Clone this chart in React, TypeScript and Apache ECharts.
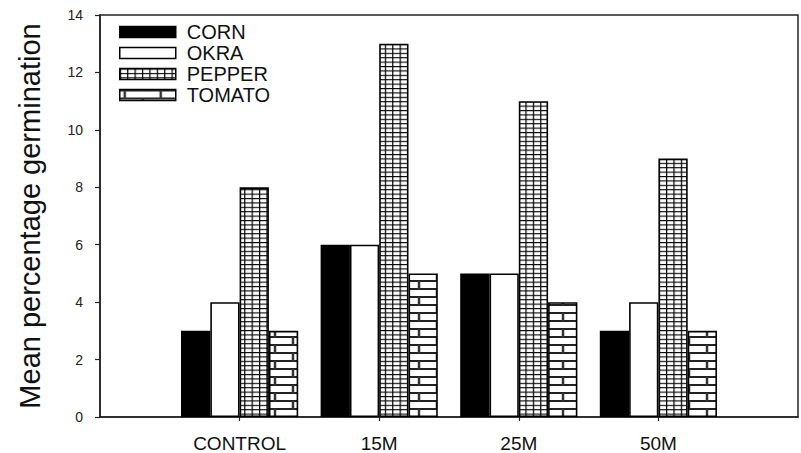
import { useEffect, useRef } from 'react';
import * as echarts from 'echarts';

// Treatments and mean germination per crop
const categories = ['CONTROL', '15M', '25M', '50M'];
const corn = [3, 6, 5, 3];
const okra = [4, 6, 5, 4];
const pepper = [8, 13, 11, 9];
const tomato = [3, 5, 4, 3];
const yMax = 14;
const yStep = 2;

const FONT = '"Liberation Sans", Arial, Helvetica, sans-serif';

// Blank slots on both ends leave an empty band before the first and after the last group
const padCats = ['', ...categories, ''];
const pad = (v: number[]) => ['-', ...v, '-'];

function svgPattern(w: number, h: number, body: string) {
  const svg =
    `<svg xmlns="http://www.w3.org/2000/svg" width="${w}" height="${h}" viewBox="0 0 ${w} ${h}">` +
    `<rect width="${w}" height="${h}" fill="#ffffff"/>${body}</svg>`;
  return {
    image: 'data:image/svg+xml;charset=utf-8,' + encodeURIComponent(svg),
    repeat: 'repeat',
    imageWidth: w,
    imageHeight: h,
  };
}

// Fine square grid hatch
const gridFill = svgPattern(
  7.4,
  4.4,
  '<path d="M0 0.6H7.4M0.6 0V4.4" stroke="#000" stroke-width="1.2" fill="none"/>'
);

// Brick hatch
const brickFill = svgPattern(
  36,
  16,
  '<path d="M0 1H36M0 9H36" stroke="#222" stroke-width="2" fill="none"/>' +
    '<path d="M5 1V9M23 9V16M23 0V1" stroke="#333" stroke-width="2.5" fill="none"/>'
);

const bar = (name: string, data: number[], color: any) => ({
  type: 'bar',
  name,
  data: pad(data),
  barWidth: 29.3,
  barGap: '0%',
  itemStyle: { color, borderColor: '#000', borderWidth: 1.6 },
  emphasis: { disabled: true },
});

export default function App() {
  const ref = useRef<HTMLDivElement>(null);

  useEffect(() => {
    if (!ref.current) return;
    const chart = echarts.init(ref.current, null, { renderer: 'svg' });
    chart.setOption({
      animation: false,
      backgroundColor: '#ffffff',
      textStyle: { fontFamily: FONT },
      grid: {
        left: 100,
        top: 15,
        width: 710,
        height: 402,
        show: true,
        borderColor: '#222',
        borderWidth: 1.5,
        backgroundColor: 'transparent',
      },
      legend: {
        orient: 'vertical',
        left: 119,
        top: 22,
        padding: 0,
        icon: 'rect',
        itemWidth: 56,
        itemHeight: 11,
        itemGap: 1,
        itemStyle: { borderColor: '#000', borderWidth: 1.5 },
        textStyle: {
          fontFamily: FONT,
          fontSize: 20,
          color: '#111',
          padding: [0, 0, 0, 6],
        },
        data: ['CORN', 'OKRA', 'PEPPER', 'TOMATO'],
      },
      xAxis: {
        type: 'category',
        data: padCats,
        boundaryGap: false,
        axisLine: { lineStyle: { color: '#222', width: 1.5 } },
        axisTick: {
          length: 4,
          interval: (_i: number, v: string) => v !== '',
          lineStyle: { color: '#222', width: 1.2 },
        },
        axisLabel: { fontSize: 19, color: '#111', margin: 17, interval: 0, fontFamily: FONT },
        splitLine: { show: false },
      },
      yAxis: {
        type: 'value',
        min: 0,
        max: yMax,
        interval: yStep,
        name: 'Mean percentage germination',
        nameLocation: 'middle',
        nameGap: 56,
        nameTextStyle: { fontSize: 29, color: '#111', fontFamily: FONT },
        axisLine: { show: true, lineStyle: { color: '#222', width: 1.5 } },
        axisTick: { show: true, length: 5, lineStyle: { color: '#222', width: 1.2 } },
        axisLabel: { fontSize: 14, color: '#222', margin: 17, fontFamily: FONT },
        splitLine: { show: false },
      },
      series: [
        bar('CORN', corn, '#000000'),
        bar('OKRA', okra, '#ffffff'),
        bar('PEPPER', pepper, gridFill),
        bar('TOMATO', tomato, brickFill),
      ],
    });
    return () => chart.dispose();
  }, []);

  return (
    <div
      ref={ref}
      style={{ position: 'fixed', left: 0, top: 0, width: 801, height: 453, background: '#fff' }}
    />
  );
}
